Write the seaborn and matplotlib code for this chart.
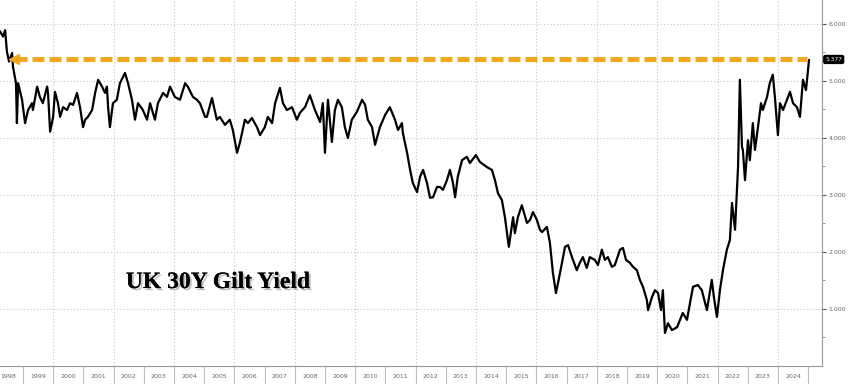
import numpy as np
import pandas as pd
import matplotlib
matplotlib.use("Agg")
import matplotlib.pyplot as plt
import matplotlib.patheffects as pe
from matplotlib.ticker import FixedLocator, NullFormatter
import seaborn as sns

# UK 30Y gilt yield (decimal year, percent)
dates = [
    1998.24, 1998.34, 1998.41, 1998.47, 1998.54, 1998.64, 1998.67, 1998.77, 1998.80, 1998.84,
    1998.97, 1999.07, 1999.17, 1999.30, 1999.33, 1999.47, 1999.56, 1999.66, 1999.80, 1999.83,
    1999.90, 2000.00, 2000.06, 2000.16, 2000.23, 2000.33, 2000.46, 2000.56, 2000.66, 2000.79,
    2000.89, 2000.99, 2001.06, 2001.15, 2001.29, 2001.39, 2001.49, 2001.62, 2001.72, 2001.78,
    2001.82, 2001.88, 2001.98, 2002.11, 2002.21, 2002.38, 2002.48, 2002.61, 2002.71, 2002.81,
    2002.97, 2003.11, 2003.21, 2003.37, 2003.47, 2003.64, 2003.77, 2003.87, 2004.03, 2004.20,
    2004.37, 2004.46, 2004.63, 2004.76, 2004.86, 2005.03, 2005.09, 2005.26, 2005.42, 2005.52,
    2005.69, 2005.85, 2005.95, 2006.09, 2006.19, 2006.35, 2006.45, 2006.58, 2006.75, 2006.85,
    2007.01, 2007.11, 2007.25, 2007.35, 2007.51, 2007.61, 2007.74, 2007.91, 2008.07, 2008.17,
    2008.34, 2008.50, 2008.67, 2008.84, 2008.93, 2009.00, 2009.10, 2009.23, 2009.33, 2009.43,
    2009.56, 2009.66, 2009.76, 2009.89, 2010.06, 2010.23, 2010.33, 2010.42, 2010.56, 2010.66,
    2010.82, 2010.99, 2011.15, 2011.32, 2011.42, 2011.55, 2011.58, 2011.72, 2011.82, 2011.91,
    2012.05, 2012.15, 2012.25, 2012.38, 2012.48, 2012.58, 2012.71, 2012.81, 2012.91, 2013.04,
    2013.14, 2013.24, 2013.31, 2013.40, 2013.54, 2013.70, 2013.80, 2014.00, 2014.13, 2014.36,
    2014.53, 2014.63, 2014.73, 2014.86, 2014.96, 2015.09, 2015.23, 2015.29, 2015.39, 2015.52,
    2015.69, 2015.79, 2015.89, 2016.02, 2016.12, 2016.19, 2016.35, 2016.45, 2016.55, 2016.65,
    2016.72, 2016.85, 2016.95, 2017.05, 2017.18, 2017.34, 2017.44, 2017.54, 2017.67, 2017.77,
    2017.94, 2018.04, 2018.17, 2018.27, 2018.37, 2018.50, 2018.60, 2018.77, 2018.87, 2018.97,
    2019.10, 2019.20, 2019.33, 2019.43, 2019.53, 2019.66, 2019.70, 2019.83, 2019.93, 2020.03,
    2020.13, 2020.19, 2020.26, 2020.36, 2020.49, 2020.66, 2020.76, 2020.85, 2020.99, 2021.09,
    2021.19, 2021.35, 2021.48, 2021.65, 2021.81, 2021.88, 2021.98, 2022.08, 2022.18, 2022.31,
    2022.41, 2022.48, 2022.58, 2022.68, 2022.74, 2022.81, 2022.84, 2022.91, 2023.01, 2023.07,
    2023.17, 2023.24, 2023.34, 2023.44, 2023.50, 2023.64, 2023.73, 2023.83, 2023.90, 2024.00,
    2024.07, 2024.17, 2024.30, 2024.40, 2024.50, 2024.63, 2024.73, 2024.83, 2024.93, 2025.03,
]
yields = [
    5.87, 5.78, 5.89, 5.51, 5.34, 5.49, 5.25, 4.96, 4.26, 4.96,
    4.67, 4.26, 4.49, 4.61, 4.49, 4.90, 4.72, 4.61, 4.90, 4.79,
    4.11, 4.37, 4.81, 4.61, 4.37, 4.54, 4.49, 4.61, 4.58, 4.79,
    4.54, 4.19, 4.32, 4.37, 4.49, 4.79, 5.02, 4.90, 4.79, 4.90,
    4.54, 4.19, 4.61, 4.67, 4.96, 5.14, 4.96, 4.67, 4.32, 4.61,
    4.49, 4.32, 4.61, 4.32, 4.61, 4.79, 4.72, 4.90, 4.72, 4.67,
    4.96, 4.90, 4.72, 4.67, 4.61, 4.37, 4.37, 4.70, 4.32, 4.37,
    4.23, 4.32, 4.14, 3.74, 3.93, 4.32, 4.26, 4.35, 4.19, 4.05,
    4.19, 4.37, 4.26, 4.61, 4.88, 4.61, 4.49, 4.54, 4.32, 4.44,
    4.54, 4.75, 4.49, 4.28, 4.61, 3.74, 4.67, 3.93, 4.49, 4.67,
    4.54, 4.19, 4.00, 4.32, 4.46, 4.67, 4.58, 4.32, 4.19, 3.88,
    4.19, 4.40, 4.54, 4.32, 4.14, 4.26, 4.09, 3.74, 3.44, 3.21,
    3.05, 3.32, 3.44, 3.21, 2.95, 2.96, 3.14, 3.14, 3.09, 3.26,
    3.44, 3.21, 2.96, 3.32, 3.61, 3.67, 3.56, 3.70, 3.58, 3.49,
    3.44, 3.26, 3.03, 2.91, 2.61, 2.09, 2.61, 2.33, 2.61, 2.82,
    2.51, 2.56, 2.70, 2.56, 2.39, 2.35, 2.44, 2.16, 1.63, 1.28,
    1.46, 1.81, 2.09, 2.12, 1.91, 1.68, 1.81, 1.91, 1.72, 1.91,
    1.86, 1.77, 2.04, 1.86, 1.91, 1.74, 1.77, 2.04, 2.07, 1.86,
    1.81, 1.74, 1.68, 1.51, 1.39, 1.16, 0.98, 1.21, 1.33, 1.28,
    0.98, 1.33, 0.58, 0.75, 0.63, 0.68, 0.81, 0.93, 0.81, 1.11,
    1.39, 1.42, 1.33, 0.98, 1.51, 1.21, 0.86, 1.33, 1.68, 2.04,
    2.21, 2.86, 2.39, 3.49, 5.02, 3.84, 3.79, 3.26, 3.96, 3.61,
    4.26, 3.79, 4.19, 4.61, 4.49, 4.72, 4.96, 5.11, 4.72, 4.05,
    4.61, 4.49, 4.67, 4.81, 4.61, 4.54, 4.37, 5.02, 4.84, 5.37,
]
last_value = 5.377
years = list(range(1998, 2025))
y_ticks = [1, 2, 3, 4, 5, 6]
y_labels = ["1.000", "2.000", "3.000", "4.000", "5.000", "6.000"]

df = pd.DataFrame({"date": dates, "yield": yields})

sns.set_style("white")
plt.rcParams["font.family"] = ["DejaVu Sans"]

fig = plt.figure(figsize=(8.48, 3.84), dpi=100)
ax = fig.add_axes([0, 18 / 384, 822 / 848, 366 / 384])

sns.lineplot(data=df, x="date", y="yield", color="black", linewidth=1.6, ax=ax)

# orange dashed reference line at the latest level, arrow pointing back to 1998
ax.plot([1998.75, 2024.95], [last_value, last_value], color="#F2A81D", linewidth=3.6,
         dashes=(2.4, 1.0), dash_capstyle="butt", zorder=3)
ax.plot([1998.72], [last_value], marker="<", markersize=7, color="#F2A81D", zorder=3)

ax.set_xlim(1998.24, 2025.46)
ax.set_ylim(0, 6.42)
ax.set_xlabel("")
ax.set_ylabel("")

# grid: dotted, every integer on y, every second year on x
for v in y_ticks:
    ax.axhline(v, color="#c4c4c4", linestyle=(0, (1, 2)), linewidth=0.8, zorder=0)
for yr in range(2000, 2025, 2):
    ax.axvline(yr, color="#c4c4c4", linestyle=(0, (1, 2)), linewidth=0.8, zorder=0)

# y axis on the right
ax.yaxis.tick_right()
ax.set_yticks(y_ticks)
ax.set_yticklabels(y_labels)
ax.yaxis.set_minor_locator(FixedLocator(np.arange(0.5, 6.5, 1.0)))
ax.tick_params(axis="y", which="both", right=True, left=False)
ax.tick_params(axis="y", which="major", direction="out", length=3, width=0.8,
               color="#555555", labelsize=4.5, labelcolor="#666666", pad=1.5)
ax.tick_params(axis="y", which="minor", direction="out", length=2, width=0.6, color="#888888")

# x axis: year cells with separators
ax.xaxis.set_major_locator(FixedLocator(years + [2025]))
ax.xaxis.set_major_formatter(NullFormatter())
ax.xaxis.set_minor_locator(FixedLocator([y + 0.5 for y in years]))
ax.set_xticklabels([str(y) for y in years], minor=True)
ax.tick_params(axis="x", which="both", bottom=True)
ax.tick_params(axis="x", which="major", direction="out", length=13, width=0.8, color="#bdbdbd")
ax.tick_params(axis="x", which="minor", length=0, labelsize=4.5, labelcolor="#666666", pad=6)

for side in ["left", "top"]:
    ax.spines[side].set_visible(False)
ax.spines["right"].set_color("#999999")
ax.spines["right"].set_linewidth(0.8)
ax.spines["bottom"].set_color("#999999")
ax.spines["bottom"].set_linewidth(0.8)

# last value tag
ax.text(1.004, last_value, "5.377", transform=ax.get_yaxis_transform(), fontsize=4.2,
        color="white", va="center", ha="left",
        bbox=dict(boxstyle="round,pad=0.25", facecolor="black", edgecolor="black"))

# title with drop shadow
ax.text(0.153, 0.228, "UK 30Y Gilt Yield", transform=ax.transAxes, fontsize=17,
        fontweight="bold", family="Liberation Serif", color="black", va="center", ha="left",
        path_effects=[pe.withSimplePatchShadow(offset=(1.5, -1.5), shadow_rgbFace="gray", alpha=0.5),
                      pe.Normal()])

fig.savefig("out.png", dpi=100)
